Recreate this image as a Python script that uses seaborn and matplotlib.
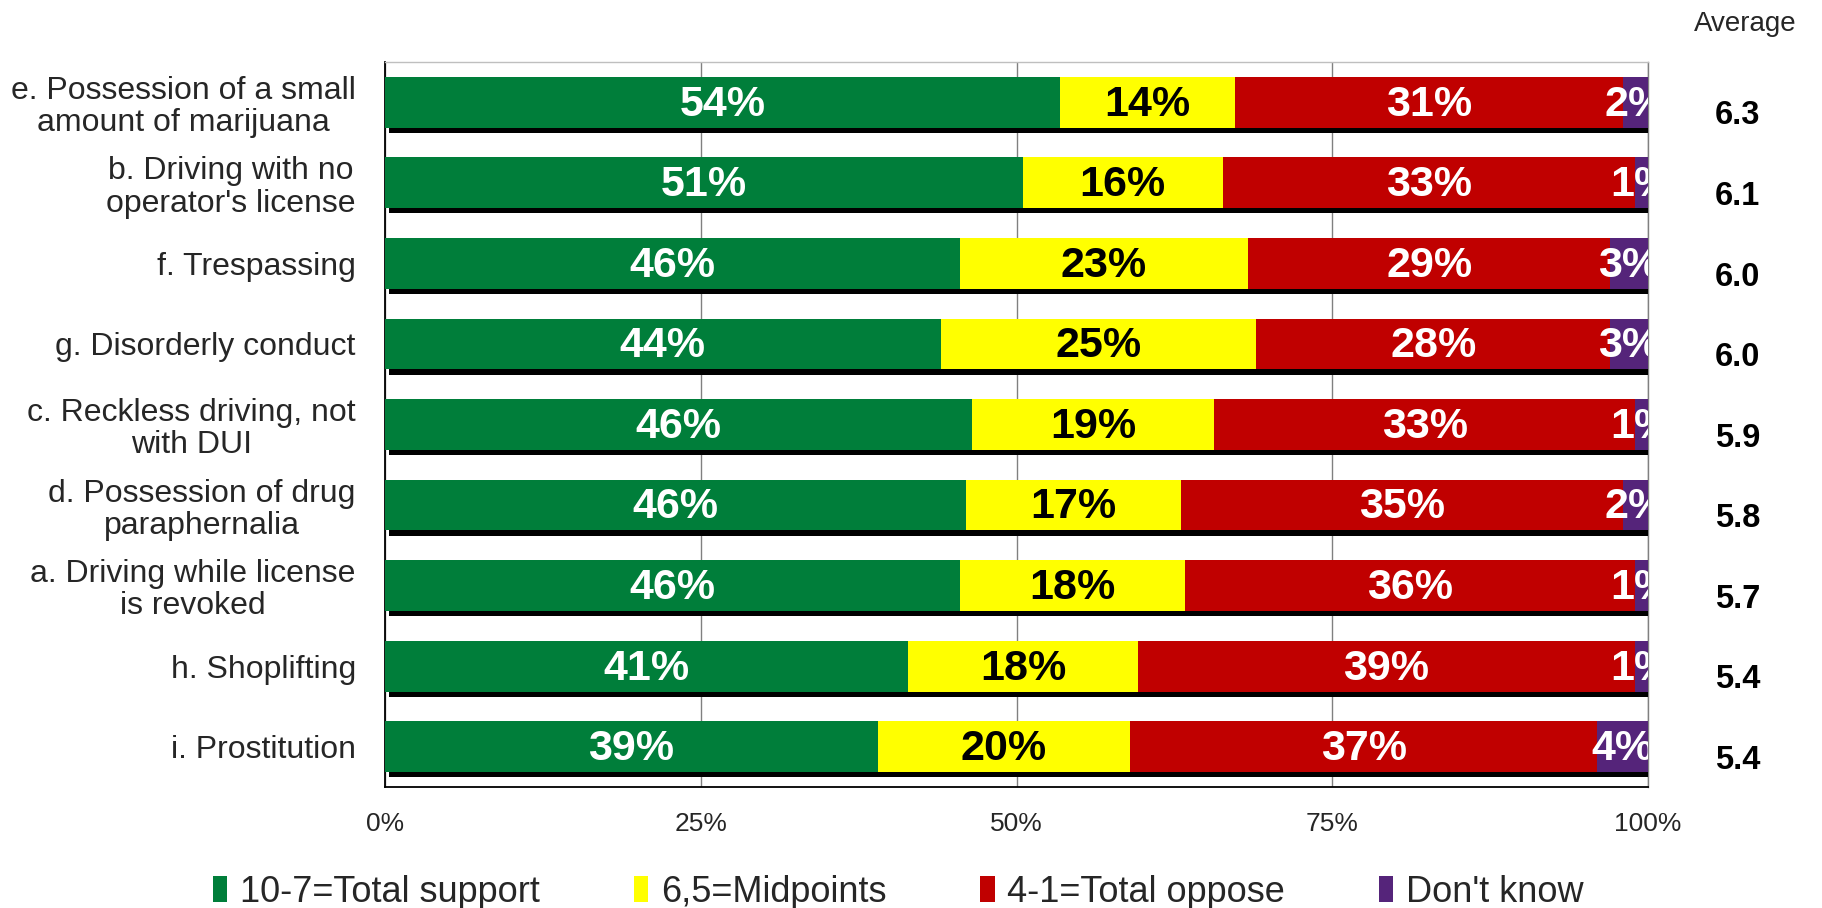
import numpy as np
import pandas as pd
import matplotlib
matplotlib.use("Agg")
import matplotlib.pyplot as plt
import matplotlib.patheffects as pe
from matplotlib.patches import Patch
import matplotlib.transforms as mtransforms
import seaborn as sns

categories = [
    "e. Possession of a small\namount of marijuana",
    "b. Driving with no\noperator's license",
    "f. Trespassing",
    "g. Disorderly conduct",
    "c. Reckless driving, not\nwith DUI",
    "d. Possession of drug\nparaphernalia",
    "a. Driving while license\nis revoked",
    "h. Shoplifting",
    "i. Prostitution",
]
support = [54, 51, 46, 44, 46, 46, 46, 41, 39]
midpoints = [14, 16, 23, 25, 19, 17, 18, 18, 20]
oppose = [31, 33, 29, 28, 33, 35, 36, 39, 37]
dont_know = [2, 1, 3, 3, 1, 2, 1, 1, 4]
average = [6.3, 6.1, 6.0, 6.0, 5.9, 5.8, 5.7, 5.4, 5.4]
series_names = ["10-7=Total support", "6,5=Midpoints", "4-1=Total oppose", "Don't know"]
colors = ["#007E3A", "#FFFF00", "#C00000", "#55247A"]
text_colors = ["white", "black", "white", "white"]
xtick_labels = ["0%", "25%", "50%", "75%", "100%"]

sns.set_theme(style="white")
plt.rcParams["font.family"] = ["Liberation Sans", "DejaVu Sans"]

raw = np.array([support, midpoints, oppose, dont_know], dtype=float)
norm = raw / raw.sum(axis=0) * 100
cum = np.cumsum(norm, axis=0)
starts = cum - norm

fig = plt.figure(figsize=(18.22, 9.08), dpi=100)
ax = fig.add_axes([385 / 1822, 1 - 787 / 908, 1263 / 1822, 725 / 908])

# draw layers from the largest cumulative down
for i in range(3, -1, -1):
    df = pd.DataFrame({"cat": categories, "val": cum[i]})
    sns.barplot(data=df, x="val", y="cat", orient="h", color=colors[i],
                saturation=1, width=0.63, linewidth=0, ax=ax, zorder=3)
    if i == 3:
        for p in ax.containers[-1]:
            p.set_path_effects([pe.SimplePatchShadow(offset=(3, -3.8), shadow_rgbFace="black", alpha=1),
                                pe.Normal()])

for i in range(4):
    for j in range(len(categories)):
        xc = starts[i, j] + norm[i, j] / 2
        ax.text(xc, j + 0.03, f"{int(raw[i, j])}%", ha="center", va="center",
                color=text_colors[i], fontsize=31, fontweight="bold",
                zorder=5, clip_on=True)

ax.set_xlim(0, 100)
ax.set_ylim(8.5, -0.5)
ax.set_xlabel("")
ax.set_ylabel("")
ax.set_xticks([0, 25, 50, 75, 100])
ax.set_xticklabels(xtick_labels, fontsize=19)
ax.set_yticks(range(len(categories)))
ax.set_yticklabels(categories, fontsize=23, multialignment="center", linespacing=1.1)
ax.set_yticks(np.arange(-0.5, len(categories), 1), minor=True)
ax.tick_params(axis="y", which="major", length=0, pad=21)
ax.tick_params(axis="y", which="minor", length=7, color="#808080", direction="out")
ax.tick_params(axis="x", which="major", length=9, color="#808080", direction="out", pad=9)
ax.grid(axis="x", color="#808080", linewidth=1)
ax.grid(axis="y", visible=False)
ax.set_axisbelow(True)
for s in ["left", "bottom"]:
    ax.spines[s].set_color("black")
    ax.spines[s].set_linewidth(1.3)
ax.spines["top"].set_color("#BFBFBF")
ax.spines["right"].set_color("#808080")
ax.spines["top"].set_linewidth(1)
ax.spines["right"].set_linewidth(1)

trans = mtransforms.blended_transform_factory(ax.transAxes, ax.transData)
for j, a in enumerate(average):
    ax.text(1.071, j + 0.17, f"{a:.1f}", transform=trans, ha="center", va="center",
            fontsize=23.5, fontweight="bold", color="black", clip_on=False)
fig.text(1745 / 1822, 1 - 24 / 908, "Average", ha="center", va="center", fontsize=20)

handles = [Patch(facecolor=c, edgecolor="none") for c in colors]
fig.legend(handles, series_names, loc="center", bbox_to_anchor=(0.493, 1 - 892 / 908),
           ncol=4, frameon=False, fontsize=26, handlelength=0.4, handleheight=0.7,
           handletextpad=0.35, columnspacing=2.6, borderpad=0)

fig.savefig("out.png", dpi=100)
